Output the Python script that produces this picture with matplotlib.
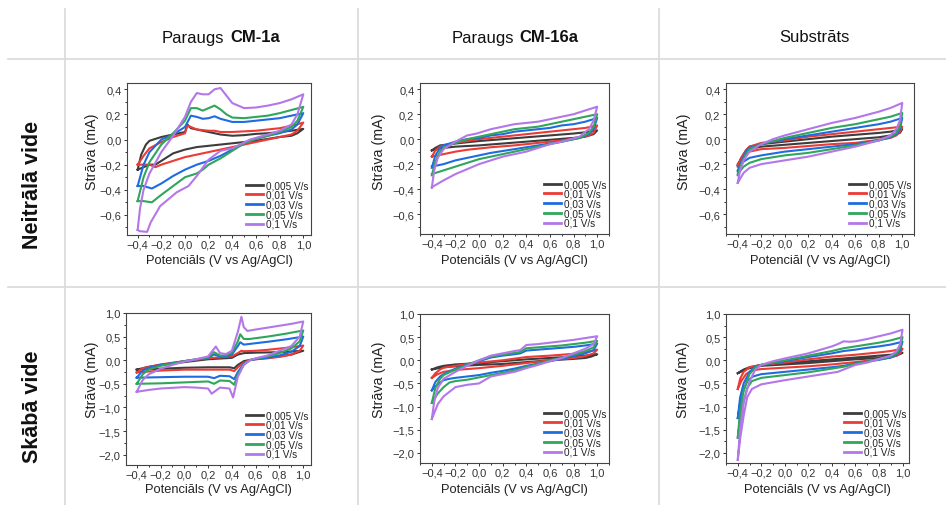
import matplotlib
matplotlib.use("Agg")
import matplotlib.pyplot as plt
from matplotlib.ticker import MultipleLocator, FuncFormatter
from matplotlib.offsetbox import TextArea, HPacker, AnnotationBbox
from matplotlib.lines import Line2D

plt.rcParams['font.family'] = ['Liberation Sans', 'DejaVu Sans']

# ---------------- labels ----------------
SCAN_RATES = ["0,005 V/s", "0,01 V/s", "0,03 V/s", "0,05 V/s", "0,1 V/s"]
COLORS = ["#3d3d3d", "#ec3a35", "#1f6ce0", "#2fa65a", "#b377ea"]
ROW_TITLES = ["Neitrālā vide", "Skābā vide"]
COL_TITLES = [("Paraugs", "CM-1a"), ("Paraugs", "CM-16a"), ("Substrāts", "")]
YLABEL = "Strāva (mA)"
XLABELS = [["Potenciāls (V vs Ag/AgCl)", "Potenciāls (V vs Ag/AgCl)", "Potenciāl (V vs Ag/AgCl)"],
           ["Potenciāls (V vs Ag/AgCl)", "Potenciāls (V vs Ag/AgCl)", "Potenciāls (V vs Ag/AgCl)"]]

# ---------------- data: closed CV loops (E [V], I [mA]) ----------------
# Neutral, CM-1a
NEU_CM1A_0005 = [(-0.4,-0.24),(-0.37,-0.12),(-0.33,-0.04),(-0.3,-0.01),(-0.2,0.02),(-0.1,0.04),(0.0,0.06),(0.02,0.12),(0.05,0.09),(0.1,0.08),(0.2,0.06),(0.3,0.04),(0.4,0.03),(0.5,0.035),(0.6,0.045),(0.7,0.05),(0.8,0.06),(0.9,0.07),(1.0,0.085),
                 (0.95,0.05),(0.9,0.03),(0.8,0.02),(0.7,0.005),(0.6,-0.01),(0.5,-0.02),(0.4,-0.03),(0.3,-0.04),(0.2,-0.05),(0.1,-0.06),(0.0,-0.08),(-0.1,-0.11),(-0.2,-0.17),(-0.25,-0.2),(-0.3,-0.2),(-0.35,-0.22),(-0.4,-0.24)]
NEU_CM1A_001 = [(-0.4,-0.2),(-0.35,-0.13),(-0.3,-0.07),(-0.2,-0.02),(-0.1,0.02),(0.0,0.05),(0.02,0.11),(0.05,0.1),(0.1,0.08),(0.2,0.07),(0.25,0.07),(0.3,0.06),(0.4,0.06),(0.5,0.065),(0.6,0.07),(0.7,0.08),(0.8,0.09),(0.9,0.11),(1.0,0.135),
                (0.95,0.07),(0.9,0.04),(0.8,0.02),(0.7,0.0),(0.6,-0.02),(0.5,-0.04),(0.4,-0.06),(0.3,-0.08),(0.2,-0.1),(0.1,-0.12),(0.0,-0.14),(-0.1,-0.17),(-0.2,-0.2),(-0.25,-0.22),(-0.3,-0.2),(-0.4,-0.2)]
NEU_CM1A_003 = [(-0.4,-0.37),(-0.35,-0.2),(-0.3,-0.1),(-0.2,0.0),(-0.1,0.04),(0.0,0.1),(0.05,0.19),(0.1,0.18),(0.15,0.165),(0.2,0.17),(0.25,0.185),(0.3,0.165),(0.4,0.14),(0.5,0.14),(0.6,0.15),(0.7,0.16),(0.8,0.17),(0.9,0.19),(1.0,0.21),
                (0.95,0.12),(0.9,0.08),(0.8,0.05),(0.7,0.03),(0.6,0.005),(0.5,-0.03),(0.4,-0.08),(0.3,-0.13),(0.2,-0.17),(0.1,-0.2),(0.0,-0.24),(-0.1,-0.29),(-0.2,-0.35),(-0.28,-0.39),(-0.35,-0.37),(-0.4,-0.37)]
NEU_CM1A_005 = [(-0.4,-0.49),(-0.35,-0.3),(-0.3,-0.18),(-0.2,-0.04),(-0.1,0.05),(0.0,0.15),(0.05,0.25),(0.1,0.25),(0.15,0.23),(0.2,0.25),(0.25,0.27),(0.3,0.24),(0.35,0.2),(0.4,0.175),(0.5,0.17),(0.6,0.18),(0.7,0.19),(0.8,0.21),(0.9,0.235),(1.0,0.26),
                (0.95,0.15),(0.9,0.1),(0.8,0.06),(0.7,0.03),(0.6,0.005),(0.5,-0.03),(0.4,-0.09),(0.3,-0.15),(0.2,-0.2),(0.15,-0.24),(0.1,-0.27),(0.0,-0.3),(-0.1,-0.37),(-0.2,-0.44),(-0.28,-0.5),(-0.35,-0.49),(-0.4,-0.49)]
NEU_CM1A_01 = [(-0.4,-0.72),(-0.38,-0.55),(-0.35,-0.4),(-0.3,-0.27),(-0.2,-0.1),(-0.1,0.03),(0.0,0.18),(0.05,0.3),(0.1,0.37),(0.15,0.36),(0.2,0.36),(0.25,0.4),(0.3,0.41),(0.35,0.35),(0.4,0.29),(0.5,0.25),(0.6,0.255),(0.7,0.27),(0.8,0.29),(0.9,0.32),(1.0,0.36),
               (0.95,0.2),(0.9,0.12),(0.8,0.07),(0.7,0.04),(0.55,0.0),(0.4,-0.07),(0.3,-0.09),(0.2,-0.16),(0.1,-0.29),(0.03,-0.37),(-0.07,-0.42),(-0.21,-0.53),(-0.29,-0.66),(-0.32,-0.735),(-0.38,-0.73),(-0.4,-0.72)]

# Neutral, CM-16a
NEU_CM16A_0005 = [(-0.4,-0.09),(-0.37,-0.07),(-0.33,-0.05),(-0.2,-0.035),(0.0,-0.015),(0.2,0.0),(0.4,0.015),(0.6,0.03),(0.8,0.045),(0.9,0.055),(1.0,0.07),
                  (0.97,0.04),(0.9,0.02),(0.8,0.01),(0.6,-0.005),(0.4,-0.02),(0.2,-0.035),(0.0,-0.05),(-0.2,-0.06),(-0.3,-0.07),(-0.4,-0.09)]
NEU_CM16A_001 = [(-0.4,-0.14),(-0.37,-0.09),(-0.33,-0.06),(-0.3,-0.05),(-0.2,-0.03),(-0.1,-0.015),(0.0,0.0),(0.2,0.02),(0.4,0.04),(0.6,0.06),(0.8,0.08),(0.9,0.09),(1.0,0.11),
                 (0.97,0.05),(0.93,0.03),(0.85,0.01),(0.7,-0.01),(0.5,-0.03),(0.3,-0.05),(0.1,-0.065),(0.0,-0.075),(-0.1,-0.085),(-0.2,-0.1),(-0.3,-0.12),(-0.4,-0.14)]
NEU_CM16A_003 = [(-0.4,-0.23),(-0.37,-0.13),(-0.33,-0.07),(-0.3,-0.05),(-0.2,-0.02),(-0.1,0.0),(0.0,0.01),(0.1,0.03),(0.2,0.04),(0.3,0.06),(0.4,0.07),(0.5,0.08),(0.6,0.09),(0.7,0.11),(0.8,0.12),(0.9,0.14),(1.0,0.17),
                 (0.97,0.08),(0.93,0.04),(0.85,0.01),(0.7,-0.02),(0.6,-0.035),(0.5,-0.05),(0.4,-0.065),(0.3,-0.08),(0.2,-0.095),(0.1,-0.11),(0.0,-0.13),(-0.1,-0.15),(-0.2,-0.17),(-0.3,-0.2),(-0.4,-0.22)]
NEU_CM16A_005 = [(-0.4,-0.29),(-0.37,-0.18),(-0.33,-0.1),(-0.3,-0.07),(-0.2,-0.03),(-0.1,0.0),(0.0,0.02),(0.1,0.04),(0.2,0.06),(0.3,0.08),(0.4,0.09),(0.5,0.1),(0.6,0.12),(0.7,0.14),(0.8,0.16),(0.9,0.18),(1.0,0.2),
                 (0.97,0.1),(0.93,0.05),(0.85,0.01),(0.7,-0.02),(0.6,-0.04),(0.5,-0.06),(0.4,-0.08),(0.3,-0.1),(0.2,-0.12),(0.1,-0.14),(0.0,-0.16),(-0.1,-0.19),(-0.2,-0.22),(-0.3,-0.25),(-0.4,-0.28)]
NEU_CM16A_01 = [(-0.4,-0.39),(-0.38,-0.25),(-0.35,-0.15),(-0.3,-0.08),(-0.2,-0.02),(-0.1,0.03),(-0.02,0.045),(0.1,0.08),(0.2,0.1),(0.3,0.12),(0.4,0.13),(0.5,0.14),(0.6,0.16),(0.7,0.18),(0.8,0.2),(0.9,0.23),(1.0,0.26),
                (0.97,0.15),(0.93,0.08),(0.85,0.02),(0.7,-0.02),(0.6,-0.04),(0.5,-0.07),(0.4,-0.1),(0.3,-0.12),(0.2,-0.14),(0.1,-0.17),(0.0,-0.2),(-0.1,-0.24),(-0.2,-0.28),(-0.3,-0.33),(-0.4,-0.385)]

# Neutral, substrate
NEU_SUB_0005 = [(-0.4,-0.22),(-0.37,-0.15),(-0.33,-0.09),(-0.3,-0.06),(-0.2,-0.04),(0.0,-0.02),(0.2,0.0),(0.4,0.02),(0.6,0.035),(0.8,0.05),(0.9,0.06),(1.0,0.08),
                (0.98,0.05),(0.9,0.03),(0.8,0.015),(0.6,0.0),(0.4,-0.015),(0.2,-0.03),(0.0,-0.045),(-0.2,-0.06),(-0.3,-0.08),(-0.35,-0.13),(-0.4,-0.2)]
NEU_SUB_001 = [(-0.4,-0.21),(-0.37,-0.15),(-0.33,-0.09),(-0.3,-0.06),(-0.2,-0.03),(0.0,-0.01),(0.2,0.02),(0.4,0.04),(0.6,0.06),(0.8,0.08),(0.9,0.09),(1.0,0.1),
               (0.98,0.06),(0.95,0.03),(0.9,0.01),(0.8,-0.005),(0.6,-0.03),(0.4,-0.04),(0.2,-0.055),(0.0,-0.07),(-0.2,-0.08),(-0.3,-0.1),(-0.35,-0.14),(-0.4,-0.21)]
NEU_SUB_003 = [(-0.4,-0.26),(-0.37,-0.18),(-0.33,-0.1),(-0.3,-0.07),(-0.2,-0.04),(0.0,0.0),(0.2,0.03),(0.4,0.06),(0.6,0.09),(0.8,0.12),(0.9,0.14),(1.0,0.17),
               (0.98,0.08),(0.95,0.04),(0.9,0.015),(0.8,-0.01),(0.6,-0.04),(0.4,-0.06),(0.2,-0.08),(0.0,-0.1),(-0.2,-0.13),(-0.3,-0.15),(-0.35,-0.18),(-0.4,-0.25)]
NEU_SUB_005 = [(-0.4,-0.29),(-0.37,-0.2),(-0.33,-0.12),(-0.3,-0.08),(-0.2,-0.04),(0.0,0.01),(0.2,0.05),(0.4,0.09),(0.6,0.12),(0.8,0.16),(0.9,0.18),(1.0,0.21),
               (0.98,0.1),(0.95,0.05),(0.9,0.02),(0.8,-0.01),(0.6,-0.05),(0.4,-0.08),(0.2,-0.11),(0.0,-0.13),(-0.2,-0.16),(-0.3,-0.19),(-0.35,-0.22),(-0.4,-0.28)]
NEU_SUB_01 = [(-0.4,-0.35),(-0.38,-0.25),(-0.35,-0.17),(-0.3,-0.1),(-0.2,-0.04),(-0.1,0.0),(0.0,0.03),(0.2,0.08),(0.4,0.13),(0.6,0.17),(0.8,0.22),(0.9,0.25),(1.0,0.29),
              (0.98,0.15),(0.95,0.08),(0.9,0.03),(0.8,-0.01),(0.6,-0.06),(0.4,-0.1),(0.2,-0.14),(0.0,-0.17),(-0.2,-0.2),(-0.3,-0.23),(-0.35,-0.27),(-0.4,-0.35)]

# Acidic, CM-1a
ACI_CM1A_0005 = [(-0.4,-0.2),(-0.3,-0.14),(-0.2,-0.1),(0.0,-0.04),(0.2,0.02),(0.4,0.05),(0.45,0.12),(0.5,0.15),(0.6,0.16),(0.8,0.17),(1.0,0.2),
                 (0.9,0.12),(0.8,0.08),(0.6,0.03),(0.5,-0.02),(0.45,-0.1),(0.42,-0.17),(0.38,-0.15),(0.2,-0.15),(0.0,-0.16),(-0.2,-0.18),(-0.4,-0.2)]
ACI_CM1A_001 = [(-0.4,-0.26),(-0.35,-0.17),(-0.2,-0.09),(0.0,-0.02),(0.2,0.04),(0.3,0.06),(0.4,0.08),(0.45,0.15),(0.48,0.2),(0.5,0.19),(0.6,0.2),(0.7,0.22),(0.85,0.26),(1.0,0.31),
                (0.97,0.2),(0.9,0.12),(0.8,0.07),(0.7,0.04),(0.6,0.02),(0.55,0.0),(0.5,-0.05),(0.45,-0.15),(0.42,-0.23),(0.38,-0.2),(0.3,-0.2),(0.0,-0.2),(-0.2,-0.22),(-0.4,-0.26)]
ACI_CM1A_003 = [(-0.4,-0.37),(-0.35,-0.22),(-0.3,-0.16),(-0.2,-0.1),(0.0,-0.02),(0.2,0.05),(0.25,0.12),(0.3,0.08),(0.35,0.08),(0.4,0.12),(0.45,0.3),(0.47,0.38),(0.5,0.33),(0.6,0.36),(0.7,0.39),(0.85,0.44),(1.0,0.5),
                (0.97,0.3),(0.9,0.18),(0.8,0.1),(0.7,0.05),(0.6,0.02),(0.55,0.0),(0.5,-0.08),(0.45,-0.25),(0.42,-0.4),(0.38,-0.34),(0.3,-0.33),(0.25,-0.38),(0.2,-0.35),(0.0,-0.35),(-0.2,-0.36),(-0.4,-0.37)]
ACI_CM1A_005 = [(-0.4,-0.5),(-0.35,-0.3),(-0.3,-0.2),(-0.2,-0.12),(0.0,-0.02),(0.2,0.06),(0.25,0.17),(0.3,0.1),(0.35,0.1),(0.4,0.16),(0.45,0.4),(0.47,0.55),(0.5,0.45),(0.55,0.45),(0.7,0.5),(0.85,0.56),(1.0,0.63),
                (0.97,0.4),(0.9,0.25),(0.8,0.15),(0.7,0.08),(0.6,0.03),(0.55,0.0),(0.5,-0.1),(0.45,-0.3),(0.42,-0.52),(0.38,-0.44),(0.3,-0.43),(0.25,-0.5),(0.2,-0.45),(0.0,-0.47),(-0.2,-0.49),(-0.4,-0.5)]
ACI_CM1A_01 = [(-0.4,-0.67),(-0.35,-0.42),(-0.3,-0.3),(-0.2,-0.18),(-0.1,-0.1),(0.0,-0.03),(0.1,0.02),(0.2,0.08),(0.265,0.29),(0.3,0.15),(0.35,0.13),(0.4,0.2),(0.45,0.6),(0.48,0.92),(0.5,0.7),(0.53,0.62),(0.6,0.65),(0.7,0.69),(0.8,0.73),(0.9,0.77),(1.0,0.82),
               (0.97,0.5),(0.9,0.3),(0.8,0.2),(0.7,0.1),(0.6,0.04),(0.55,0.0),(0.5,-0.1),(0.45,-0.35),(0.41,-0.79),(0.38,-0.6),(0.3,-0.58),(0.23,-0.71),(0.2,-0.6),(0.1,-0.58),(0.0,-0.57),(-0.2,-0.6),(-0.3,-0.63),(-0.4,-0.67)]

# Acidic, CM-16a
ACI_CM16A_0005 = [(-0.4,-0.2),(-0.35,-0.15),(-0.3,-0.12),(-0.2,-0.09),(0.0,-0.06),(0.2,-0.02),(0.4,0.02),(0.6,0.05),(0.8,0.08),(0.9,0.1),(1.0,0.13),
                  (0.95,0.08),(0.9,0.05),(0.8,0.03),(0.6,0.0),(0.4,-0.04),(0.2,-0.08),(0.0,-0.1),(-0.2,-0.13),(-0.3,-0.15),(-0.4,-0.2)]
ACI_CM16A_001 = [(-0.4,-0.38),(-0.37,-0.28),(-0.33,-0.2),(-0.3,-0.16),(-0.2,-0.12),(-0.1,-0.08),(0.0,-0.05),(0.2,0.0),(0.4,0.07),(0.6,0.1),(0.8,0.14),(0.9,0.17),(1.0,0.23),
                 (0.97,0.15),(0.9,0.09),(0.8,0.05),(0.6,0.0),(0.4,-0.06),(0.2,-0.12),(0.0,-0.17),(-0.1,-0.19),(-0.2,-0.21),(-0.3,-0.25),(-0.35,-0.3),(-0.4,-0.38)]
ACI_CM16A_003 = [(-0.4,-0.65),(-0.37,-0.47),(-0.33,-0.35),(-0.3,-0.3),(-0.2,-0.18),(-0.1,-0.09),(0.0,-0.02),(0.1,0.06),(0.2,0.1),(0.3,0.13),(0.35,0.15),(0.4,0.21),(0.5,0.23),(0.6,0.25),(0.7,0.27),(0.8,0.29),(0.9,0.32),(1.0,0.36),
                 (0.97,0.22),(0.9,0.15),(0.8,0.09),(0.7,0.03),(0.6,-0.02),(0.5,-0.07),(0.4,-0.12),(0.3,-0.18),(0.2,-0.23),(0.1,-0.27),(0.0,-0.32),(-0.1,-0.35),(-0.2,-0.38),(-0.25,-0.4),(-0.3,-0.43),(-0.35,-0.52),(-0.4,-0.65)]
ACI_CM16A_005 = [(-0.4,-0.92),(-0.37,-0.6),(-0.33,-0.4),(-0.3,-0.32),(-0.2,-0.2),(-0.1,-0.1),(0.0,0.0),(0.1,0.08),(0.2,0.12),(0.3,0.16),(0.35,0.18),(0.4,0.26),(0.5,0.28),(0.6,0.3),(0.7,0.32),(0.8,0.35),(0.9,0.38),(1.0,0.42),
                 (0.97,0.28),(0.9,0.2),(0.8,0.12),(0.7,0.05),(0.6,0.0),(0.5,-0.08),(0.4,-0.14),(0.3,-0.22),(0.2,-0.27),(0.1,-0.32),(0.0,-0.37),(-0.1,-0.42),(-0.2,-0.45),(-0.25,-0.48),(-0.3,-0.58),(-0.35,-0.72),(-0.4,-0.92)]
ACI_CM16A_01 = [(-0.4,-1.27),(-0.38,-0.9),(-0.35,-0.6),(-0.3,-0.4),(-0.2,-0.25),(-0.1,-0.12),(0.0,0.0),(0.1,0.1),(0.2,0.15),(0.3,0.2),(0.35,0.22),(0.4,0.33),(0.5,0.35),(0.6,0.38),(0.7,0.41),(0.8,0.44),(0.9,0.48),(1.0,0.52),
                (0.97,0.35),(0.9,0.25),(0.8,0.15),(0.7,0.05),(0.6,-0.02),(0.5,-0.1),(0.4,-0.17),(0.3,-0.25),(0.2,-0.3),(0.1,-0.35),(0.0,-0.5),(-0.1,-0.53),(-0.2,-0.58),(-0.25,-0.68),(-0.3,-0.78),(-0.35,-0.95),(-0.4,-1.27)]

# Acidic, substrate
ACI_SUB_0005 = [(-0.4,-0.28),(-0.35,-0.2),(-0.3,-0.15),(-0.2,-0.1),(0.0,-0.06),(0.2,-0.02),(0.4,0.02),(0.6,0.06),(0.8,0.1),(0.9,0.12),(1.0,0.16),
                (0.95,0.1),(0.9,0.08),(0.8,0.05),(0.6,0.02),(0.4,-0.02),(0.2,-0.06),(0.0,-0.09),(-0.2,-0.12),(-0.3,-0.17),(-0.35,-0.22),(-0.4,-0.28)]
ACI_SUB_001 = [(-0.4,-0.62),(-0.38,-0.4),(-0.35,-0.25),(-0.3,-0.15),(-0.2,-0.1),(0.0,-0.05),(0.2,0.02),(0.4,0.08),(0.6,0.12),(0.8,0.17),(0.9,0.2),(1.0,0.25),
               (0.98,0.15),(0.95,0.1),(0.9,0.06),(0.8,0.02),(0.6,-0.04),(0.4,-0.09),(0.2,-0.13),(0.0,-0.16),(-0.2,-0.19),(-0.28,-0.22),(-0.33,-0.3),(-0.37,-0.45),(-0.4,-0.62)]
ACI_SUB_003 = [(-0.4,-1.25),(-0.38,-0.8),(-0.35,-0.5),(-0.3,-0.25),(-0.25,-0.14),(-0.2,-0.1),(0.0,-0.02),(0.2,0.07),(0.4,0.15),(0.5,0.2),(0.6,0.23),(0.7,0.27),(0.8,0.3),(0.9,0.34),(1.0,0.4),
               (0.98,0.22),(0.95,0.12),(0.9,0.06),(0.8,0.01),(0.7,-0.03),(0.6,-0.07),(0.5,-0.12),(0.4,-0.15),(0.2,-0.2),(0.0,-0.25),(-0.2,-0.3),(-0.27,-0.35),(-0.32,-0.45),(-0.35,-0.65),(-0.38,-0.95),(-0.4,-1.25)]
ACI_SUB_005 = [(-0.4,-1.67),(-0.38,-1.1),(-0.35,-0.65),(-0.3,-0.3),(-0.25,-0.15),(-0.2,-0.1),(0.0,0.0),(0.2,0.1),(0.4,0.2),(0.5,0.26),(0.6,0.3),(0.7,0.34),(0.8,0.38),(0.9,0.43),(1.0,0.5),
               (0.98,0.28),(0.95,0.15),(0.9,0.08),(0.8,0.02),(0.7,-0.03),(0.6,-0.08),(0.5,-0.14),(0.4,-0.18),(0.2,-0.26),(0.0,-0.32),(-0.2,-0.38),(-0.28,-0.45),(-0.32,-0.6),(-0.35,-0.9),(-0.38,-1.3),(-0.4,-1.67)]
ACI_SUB_01 = [(-0.4,-2.15),(-0.38,-1.5),(-0.35,-0.9),(-0.3,-0.45),(-0.25,-0.2),(-0.2,-0.1),(-0.1,-0.02),(0.0,0.04),(0.2,0.15),(0.4,0.3),(0.45,0.35),(0.5,0.41),(0.55,0.4),(0.6,0.41),(0.7,0.46),(0.8,0.52),(0.9,0.58),(1.0,0.66),
              (0.98,0.35),(0.95,0.2),(0.9,0.1),(0.8,0.03),(0.7,-0.05),(0.6,-0.1),(0.5,-0.2),(0.45,-0.25),(0.4,-0.27),(0.2,-0.35),(0.0,-0.43),(-0.2,-0.52),(-0.28,-0.62),(-0.32,-0.8),(-0.35,-1.2),(-0.38,-1.7),(-0.4,-2.15)]

PANELS = [[[NEU_CM1A_0005, NEU_CM1A_001, NEU_CM1A_003, NEU_CM1A_005, NEU_CM1A_01],
           [NEU_CM16A_0005, NEU_CM16A_001, NEU_CM16A_003, NEU_CM16A_005, NEU_CM16A_01],
           [NEU_SUB_0005, NEU_SUB_001, NEU_SUB_003, NEU_SUB_005, NEU_SUB_01]],
          [[ACI_CM1A_0005, ACI_CM1A_001, ACI_CM1A_003, ACI_CM1A_005, ACI_CM1A_01],
           [ACI_CM16A_0005, ACI_CM16A_001, ACI_CM16A_003, ACI_CM16A_005, ACI_CM16A_01],
           [ACI_SUB_0005, ACI_SUB_001, ACI_SUB_003, ACI_SUB_005, ACI_SUB_01]]]

# ---------------- figure ----------------
W, H = 946, 506
fig = plt.figure(figsize=(W / 100, H / 100), dpi=100)
fig.patch.set_facecolor("white")

def fx(px):
    return px / W

def fy(py):
    return 1 - py / H

# table grid lines
grid_kw = dict(color="#dcdcdc", lw=1.3, transform=fig.transFigure, zorder=0)
for xv in (65, 358, 659):
    fig.add_artist(Line2D([fx(xv), fx(xv)], [fy(10), fy(506)], **grid_kw))
for yv in (60, 288):
    fig.add_artist(Line2D([fx(8), fx(946)], [fy(yv), fy(yv)], **grid_kw))

# column titles
col_centers = [221, 515, 814]
for (plain, bold), cx in zip(COL_TITLES, col_centers):
    kids = [TextArea(plain, textprops=dict(fontsize=12, color="#111111"))]
    if bold:
        kids.append(TextArea(bold, textprops=dict(fontsize=12, fontweight="bold", color="#111111")))
    box = HPacker(children=kids, align="baseline", pad=0, sep=4)
    ab = AnnotationBbox(box, (fx(cx), fy(38)), xycoords="figure fraction", frameon=False,
                        box_alignment=(0.5, 0.5))
    fig.add_artist(ab)

# row titles
for title, cy in zip(ROW_TITLES, (185, 407)):
    fig.text(fx(33), fy(cy), title, rotation=90, fontsize=15.5, fontweight="bold",
             ha="center", va="center", color="#111111")

def fmt(v, pos):
    s = f"{v:.1f}".replace(".", ",")
    if s.startswith("-"):
        s = "\u2212" + s[1:]
    if s == "\u22120,0":
        s = "0,0"
    return s

boxes = [[(127, 311, 84, 236), (420, 609, 84, 235), (726, 914, 84, 235)],
         [(126, 311, 314, 466), (420, 609, 315, 464), (726, 909, 315, 464)]]
xlims = [[(-0.49, 1.065), (-0.50, 1.10), (-0.50, 1.10)],
         [(-0.49, 1.065), (-0.50, 1.10), (-0.50, 1.055)]]
ylims = [(-0.76, 0.45), (-2.22, 1.0)]
ymaj = [0.2, 0.5]
ylabel_x = [[92, 379, 684], [92, 379, 683]]
ylabel_y = [152, 380]
xlabel_y = [261, 490]

for r in range(2):
    for c in range(3):
        l, rr, t, b = boxes[r][c]
        wpx, hpx = rr - l, b - t
        ax = fig.add_axes([fx(l), fy(b), wpx / W, hpx / H])
        for curve, col, lab in zip(PANELS[r][c], COLORS, SCAN_RATES):
            E = [p[0] for p in curve]
            I = [p[1] for p in curve]
            ax.plot(E, I, color=col, lw=1.5, label=lab, solid_joinstyle="round")
        ax.set_xlim(*xlims[r][c])
        ax.set_ylim(*ylims[r])
        ax.xaxis.set_major_locator(MultipleLocator(0.2))
        ax.xaxis.set_minor_locator(MultipleLocator(0.1))
        ax.yaxis.set_major_locator(MultipleLocator(ymaj[r]))
        ax.yaxis.set_minor_locator(MultipleLocator(ymaj[r] / 2))
        ax.xaxis.set_major_formatter(FuncFormatter(fmt))
        ax.yaxis.set_major_formatter(FuncFormatter(fmt))
        ax.tick_params(which="both", direction="out", top=False, right=False,
                       labelsize=8.0, colors="#333333", width=0.7)
        ax.tick_params(axis="x", pad=0.8)
        ax.tick_params(axis="y", pad=1.5)
        ax.tick_params(which="major", length=2.5)
        ax.tick_params(which="minor", length=1.6)
        for s in ax.spines.values():
            s.set_linewidth(0.8)
            s.set_color("#444444")
        ax.set_xlabel(XLABELS[r][c], fontsize=9.3, color="#222222")
        ax.set_ylabel(YLABEL, fontsize=10.3, color="#222222")
        ax.yaxis.set_label_coords((ylabel_x[r][c] - l) / wpx, (b - ylabel_y[r]) / hpx)
        ax.xaxis.set_label_coords(0.5, (b - xlabel_y[r]) / hpx)
        ax.yaxis.label.set_va("center")
        ax.xaxis.label.set_va("center")
        leg = ax.legend(loc="lower right", bbox_to_anchor=(1 - 3 / wpx, 6 / hpx),
                        frameon=False, fontsize=7.2, handlelength=1.75,
                        handletextpad=0.25, labelspacing=-0.03, borderaxespad=0.0,
                        borderpad=0.0)
        for h in leg.get_lines():
            h.set_linewidth(2.0)
        for txt in leg.get_texts():
            txt.set_color("#222222")

fig.savefig("out.png", dpi=100)
